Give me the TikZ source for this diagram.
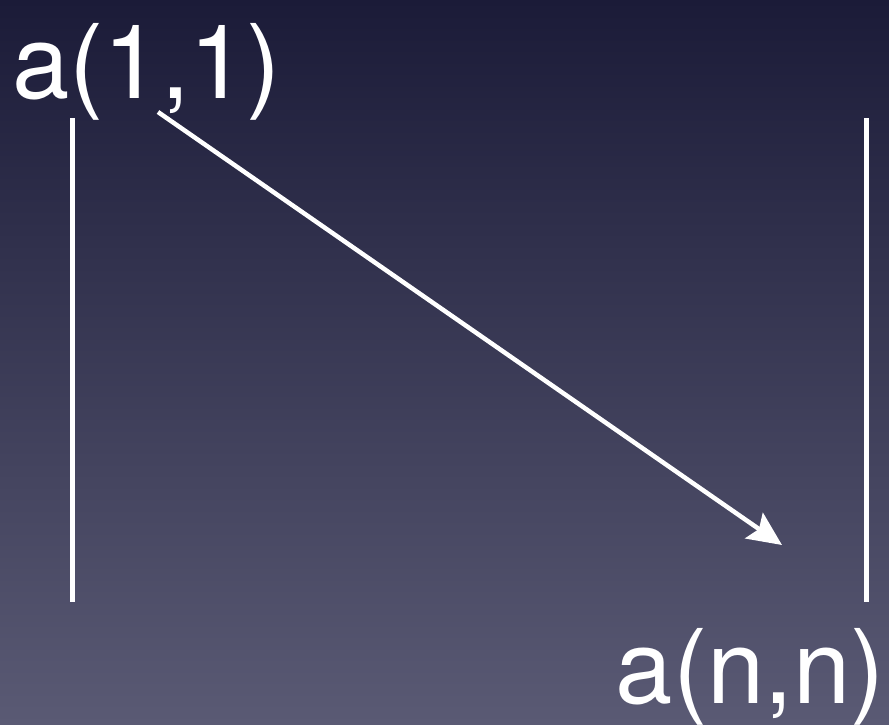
\documentclass[tikz,border=0pt]{standalone}
\usepackage{fontspec}
\setmainfont{TeX Gyre Heros}
\usetikzlibrary{positioning,arrows.meta}
\definecolor{NightTop}{RGB}{27,27,56}
\definecolor{NightBottom}{RGB}{90,90,116}
\tikzset{
  entry/.style={text=white,inner sep=0pt,font=\fontsize{103}{103}\selectfont},
  bar/.style={draw=white,line width=5pt},
  diag/.style={-{Stealth[length=34pt,width=31pt,inset=6pt]},draw=white,line width=4.5pt}
}

\begin{document}
\begin{tikzpicture}[x=1pt,y=-1pt]
  \shade[top color=NightTop,bottom color=NightBottom] (0,0) rectangle (889,724);
  \useasboundingbox (0,0) rectangle (889,724);
  \node[entry,anchor=base west] (first) at (12,98) {a(1,1)};
  \node[entry,anchor=base east] (last) at (885,703) {a(n,n)};
  \coordinate (leftTop) at (72.5,118);
  \coordinate (leftBot) at (72.5,602);
  \coordinate (rightTop) at (866.5,118);
  \coordinate (rightBot) at (866.5,602);
  \coordinate (diagFrom) at (158,112);
  \coordinate (diagTo) at (782,545);
  \draw[bar] (leftTop) -- (leftBot);
  \draw[bar] (rightTop) -- (rightBot);
  \draw[diag] (diagFrom) -- (diagTo);
\end{tikzpicture}
\end{document}
